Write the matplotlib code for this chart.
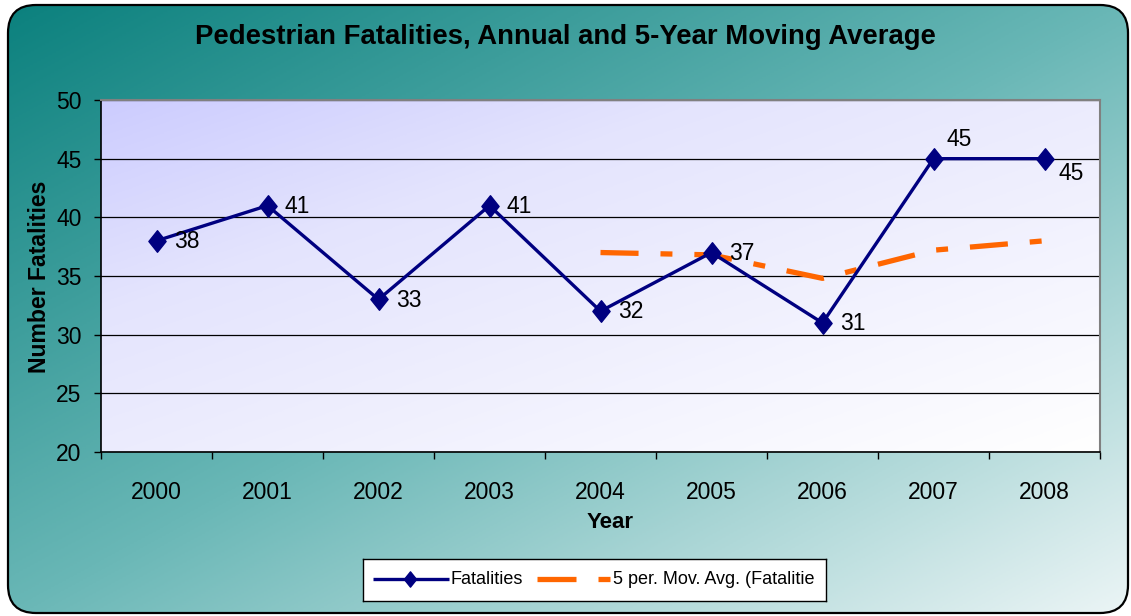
import numpy as np
import matplotlib
matplotlib.use('Agg')
import matplotlib.pyplot as plt
from matplotlib.patches import FancyBboxPatch
from matplotlib.path import Path
from matplotlib.colors import LinearSegmentedColormap

# ---- data ----
years = ['2000', '2001', '2002', '2003', '2004', '2005', '2006', '2007', '2008']
fatalities = [38, 41, 33, 41, 32, 37, 31, 45, 45]
mov_avg_years = ['2004', '2005', '2006', '2007', '2008']
mov_avg = [37.0, 36.8, 34.8, 37.2, 38.0]
y_ticks = [20, 25, 30, 35, 40, 45, 50]

title = 'Pedestrian Fatalities, Annual and 5-Year Moving Average'
x_label = 'Year'
y_label = 'Number Fatalities'
legend_labels = ['Fatalities', '5 per. Mov. Avg. (Fatalitie']

plt.rcParams['font.family'] = ['Liberation Sans', 'DejaVu Sans']
plt.rcParams['lines.scale_dashes'] = False

NAVY = '#000080'
ORANGE = '#FF6600'
W, H = 1131, 616

fig = plt.figure(figsize=(W / 100, H / 100), dpi=100)
fig.patch.set_facecolor('white')

# ---- outer rounded background with diagonal gradient ----
bg = fig.add_axes([0, 0, 1, 1], zorder=-10)
bg.set_xlim(0, W)
bg.set_ylim(0, H)
bg.axis('off')
yy, xx = np.mgrid[0:1:300j, 0:1:600j]
tg = (xx + yy) / 2
cmap_bg = LinearSegmentedColormap.from_list('bg', [
    (0.0, (10 / 255, 128 / 255, 125 / 255)),
    (0.5, (105 / 255, 183 / 255, 182 / 255)),
    (1.0, (236 / 255, 245 / 255, 246 / 255))])
im = bg.imshow(tg, cmap=cmap_bg, vmin=0, vmax=1, extent=(0, W, 0, H),
               aspect='auto', interpolation='bilinear')
box = FancyBboxPatch((8, 3), 1120, 608, boxstyle='round,pad=0,rounding_size=28',
                     facecolor='none', edgecolor='black', lw=1.6, zorder=5)
bg.add_patch(box)
im.set_clip_path(box)

# ---- main axes ----
ax = fig.add_axes([101 / W, (H - 452) / H, 999 / W, 352 / H])
ax.set_facecolor('none')
cmap_pa = LinearSegmentedColormap.from_list('pa', [
    (0.0, (204 / 255, 204 / 255, 255 / 255)),
    (0.3, (228 / 255, 228 / 255, 253 / 255)),
    (1.0, (255 / 255, 255 / 255, 255 / 255))])
ax.imshow(tg, cmap=cmap_pa, vmin=0, vmax=1, extent=(0, 1, 0, 1),
          transform=ax.transAxes, aspect='auto', zorder=0, interpolation='bilinear')

xpos = np.arange(len(years))
ma_x = [years.index(y) for y in mov_avg_years]

diamond = Path([(0, 1), (0.8, 0), (0, -1), (-0.8, 0), (0, 1)],
               [Path.MOVETO, Path.LINETO, Path.LINETO, Path.LINETO, Path.CLOSEPOLY])

ax.plot(ma_x, mov_avg, color=ORANGE, lw=3.8, dashes=(27.4, 15.8, 8.6, 15.8),
        dash_capstyle='butt', zorder=3)
ax.plot(xpos, fatalities, color=NAVY, lw=2.4, marker=diamond, ms=15.5,
        markerfacecolor=NAVY, markeredgecolor=NAVY, zorder=4)

# data labels
for i, v in enumerate(fatalities):
    if i == len(fatalities) - 2:
        off = (9.5, 14)
    elif i == len(fatalities) - 1:
        off = (10, -11)
    else:
        off = (12.5, -0.5)
    ax.annotate(str(v), (xpos[i], v), xytext=off, textcoords='offset points',
                ha='left', va='center', fontsize=16.5, color='black', zorder=6)

ax.set_xlim(-0.5, len(years) - 0.5)
ax.set_ylim(y_ticks[0], y_ticks[-1])
ax.set_yticks(y_ticks)
ax.set_xticks(xpos)
ax.set_xticklabels(years)
ax.set_xticks(np.arange(-0.5, len(years), 1), minor=True)
ax.tick_params(axis='x', which='major', length=0, pad=21, labelsize=16.5)
ax.tick_params(axis='x', which='minor', length=5, width=1, direction='out', color='black')
ax.tick_params(axis='y', which='major', length=5, width=1, direction='out',
               color='black', pad=9, labelsize=16.5)
ax.yaxis.grid(True, color='black', lw=0.9)
ax.set_axisbelow(True)
for s in ['top', 'right']:
    ax.spines[s].set_color('#808080')
    ax.spines[s].set_linewidth(1.5)
for s in ['left', 'bottom']:
    ax.spines[s].set_color('black')
    ax.spines[s].set_linewidth(1.2)

# ---- texts ----
fig.text(0.5, 1 - 37 / H, title, ha='center', va='center', fontsize=19.8, fontweight='bold')
fig.text(610 / W, 1 - 523 / H, x_label, ha='center', va='center', fontsize=16, fontweight='bold')
fig.text(40 / W, 1 - 277 / H, y_label, ha='center', va='center', fontsize=16.6,
         fontweight='bold', rotation=90)

# ---- legend ----
lg = fig.add_axes([363 / W, (H - 601) / H, 463 / W, 42 / H])
lg.set_xlim(363, 826)
lg.set_ylim(601, 559)
lg.set_facecolor('white')
lg.set_xticks([])
lg.set_yticks([])
for s in lg.spines.values():
    s.set_color('black')
    s.set_linewidth(1.0)
ly = 579
lg.plot([373, 449], [ly, ly], color=NAVY, lw=2.4, solid_capstyle='butt')
lg.plot([410], [ly], marker=diamond, ms=11, color=NAVY)
lg.text(451, ly + 1, legend_labels[0], ha='left', va='center', fontsize=13)
lg.plot([537, 576], [ly, ly], color=ORANGE, lw=3.8, solid_capstyle='butt')
lg.plot([598, 610], [ly, ly], color=ORANGE, lw=3.8, solid_capstyle='butt')
lg.text(613, ly + 1, legend_labels[1], ha='left', va='center', fontsize=13)

fig.savefig('out.png', dpi=100)
